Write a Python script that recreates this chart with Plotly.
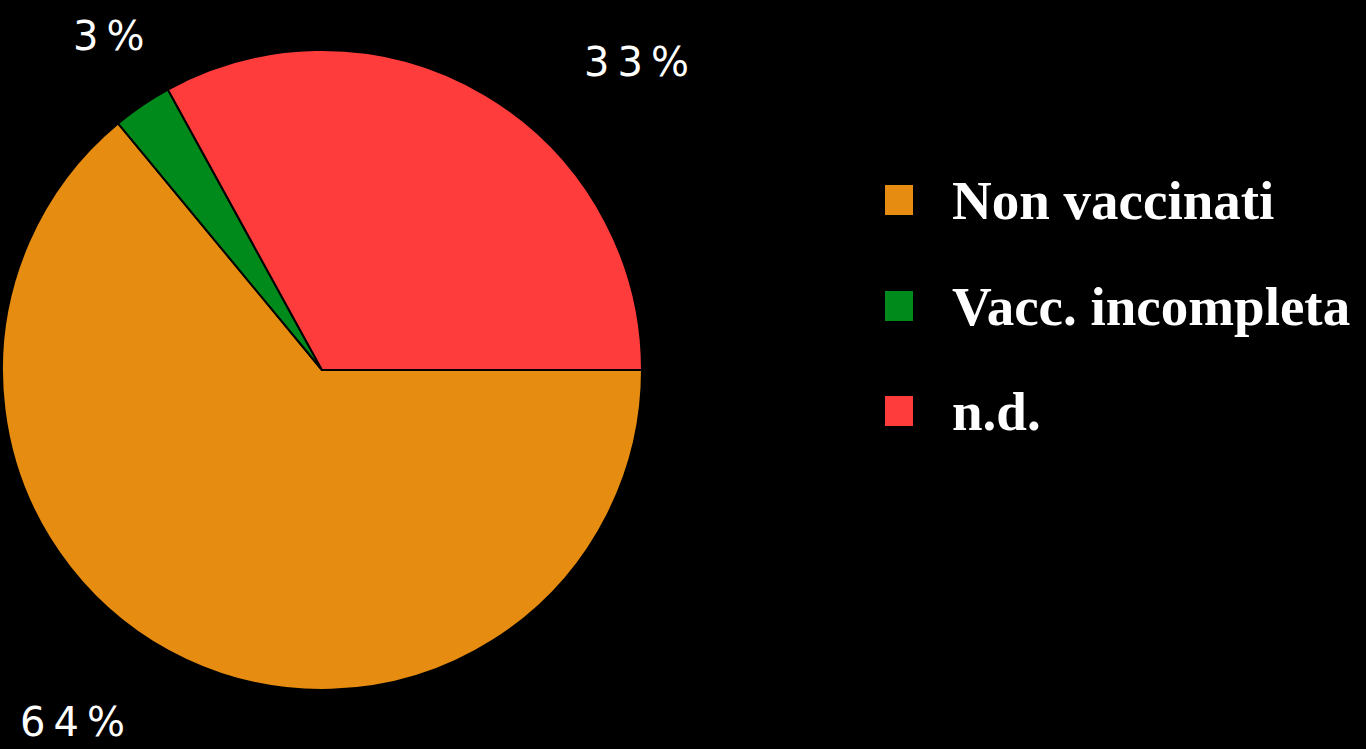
import plotly.graph_objects as go

labels = ["Non vaccinati", "Vacc. incompleta", "n.d."]
values = [64, 3, 33]
colors = ["#E68C10", "#008A1C", "#FF3C3C"]

# label positions (paper px) for percent annotations
pct_pos = [(72, 722), (108, 36), (636, 62)]
legend_y = [200, 306, 411]

W, H = 1366, 749
cx, cy, r = 322, 370, 320

fig = go.Figure()
fig.add_trace(go.Pie(
    labels=labels, values=values, sort=False,
    direction="clockwise", rotation=90,
    marker=dict(colors=colors, line=dict(color="black", width=2)),
    textinfo="none", showlegend=False, hoverinfo="label+percent",
    domain=dict(x=[(cx - r) / W, (cx + r) / W], y=[1 - (cy + r) / H, 1 - (cy - r) / H]),
))

annotations = []
shapes = []
for lab, v, col, (px, py), ly in zip(labels, values, colors, pct_pos, legend_y):
    annotations.append(dict(
        x=px / W, y=1 - py / H, xref="paper", yref="paper",
        text="\u2009".join(list(f"{v}%")), showarrow=False,
        font=dict(family="DejaVu Sans", size=40, color="white"),
        xanchor="center", yanchor="middle"))
    annotations.append(dict(
        x=950 / W, y=1 - ly / H, xref="paper", yref="paper",
        text=f"<b>{lab}</b>", showarrow=False,
        font=dict(family="Liberation Serif", size=55, color="white"),
        xanchor="left", yanchor="middle"))
    shapes.append(dict(
        type="rect", xref="paper", yref="paper",
        x0=885 / W, x1=913 / W, y0=1 - (ly - 15) / H, y1=1 - (ly + 15) / H,
        fillcolor=col, line=dict(width=0)))

fig.update_layout(
    width=W, height=H, margin=dict(l=0, r=0, t=0, b=0),
    paper_bgcolor="black", plot_bgcolor="black",
    annotations=annotations, shapes=shapes, showlegend=False,
)
fig.write_html(
    "out.html",
    config={"displayModeBar": False},
    post_script="document.body.style.margin='0';document.body.style.background='black';",
)
